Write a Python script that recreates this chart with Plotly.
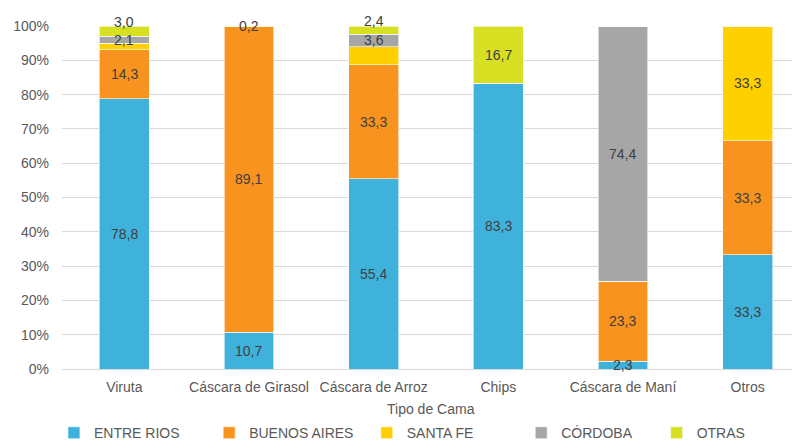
import plotly.graph_objects as go

categories = ["Viruta", "Cáscara de Girasol", "Cáscara de Arroz", "Chips", "Cáscara de Maní", "Otros"]

entre_rios = [78.8, 10.7, 55.4, 83.3, 2.3, 33.3]
buenos_aires = [14.3, 89.1, 33.3, 0, 23.3, 33.3]
santa_fe = [1.8, 0, 5.3, 0, 0, 33.3]
cordoba = [2.1, 0, 3.6, 0, 74.4, 0]
otras = [3.0, 0.2, 2.4, 16.7, 0, 0]

series = [
    ("ENTRE RIOS", entre_rios, "#3fb2dc"),
    ("BUENOS AIRES", buenos_aires, "#f7931e"),
    ("SANTA FE", santa_fe, "#ffd000"),
    ("CÓRDOBA", cordoba, "#a6a6a6"),
    ("OTRAS", otras, "#d7df23"),
]

# labels Excel left off, and the ones it nudged up to dodge neighbours
hidden = {("SANTA FE", "Viruta"), ("SANTA FE", "Cáscara de Arroz")}
nudge = {("OTRAS", "Viruta"): 9, ("OTRAS", "Cáscara de Arroz"): 9}

# Excel spaces legend entries by text length, so each entry gets its own legend box
legend_x = [0.058, 0.254, 0.453, 0.648, 0.819]

FONT = "Liberation Sans, Arial, sans-serif"
GREY = "#595959"

fig = go.Figure()
annotations = []
legends = {}
base = [0.0] * len(categories)
for k, (name, vals, color) in enumerate(series):
    key = "legend" if k == 0 else f"legend{k + 1}"
    fig.add_trace(go.Bar(
        x=categories, y=vals, name=name, legend=key, showlegend=True,
        marker=dict(color=color, line=dict(color="white", width=0.6)),
    ))
    legends[key] = dict(
        orientation="h", xref="container", x=legend_x[k], xanchor="left",
        y=-0.187, yanchor="middle",
        itemwidth=30, bgcolor="rgba(0,0,0,0)",
        font=dict(family=FONT, size=14, color=GREY),
    )
    for i, (cat, v) in enumerate(zip(categories, vals)):
        if v > 0 and (name, cat) not in hidden:
            annotations.append(dict(
                x=cat, y=base[i] + v / 2, xref="x", yref="y",
                text=f"{v:.1f}".replace(".", ","), showarrow=False,
                yshift=nudge.get((name, cat), 0),
                font=dict(family=FONT, size=14, color="#404040"),
            ))
        base[i] += v

annotations.append(dict(
    x=0.5, y=-0.117, xref="paper", yref="paper", text="Tipo de Cama",
    showarrow=False, yanchor="middle",
    font=dict(family=FONT, size=14, color=GREY),
))

# the page body adds an 8px margin, so the figure is sized to the remaining window
fig.update_layout(
    barmode="stack",
    bargap=0.6,
    width=792, height=432,
    showlegend=True,
    margin=dict(l=54, r=0, t=18, b=71, autoexpand=False),
    plot_bgcolor="white", paper_bgcolor="white",
    font=dict(family=FONT, size=14, color=GREY),
    annotations=annotations,
    xaxis=dict(
        range=[-0.5, 5.42], showgrid=False, showline=True,
        linecolor="#d9d9d9", linewidth=1, ticks="", tickfont=dict(size=14),
        ticklabelstandoff=5,
    ),
    yaxis=dict(
        range=[0, 100], dtick=10, ticksuffix="%", showgrid=True,
        gridcolor="#d9d9d9", gridwidth=1, zeroline=False,
        tickfont=dict(size=14), ticklabelstandoff=12,
    ),
    **legends,
)

fig.write_html("out.html")
